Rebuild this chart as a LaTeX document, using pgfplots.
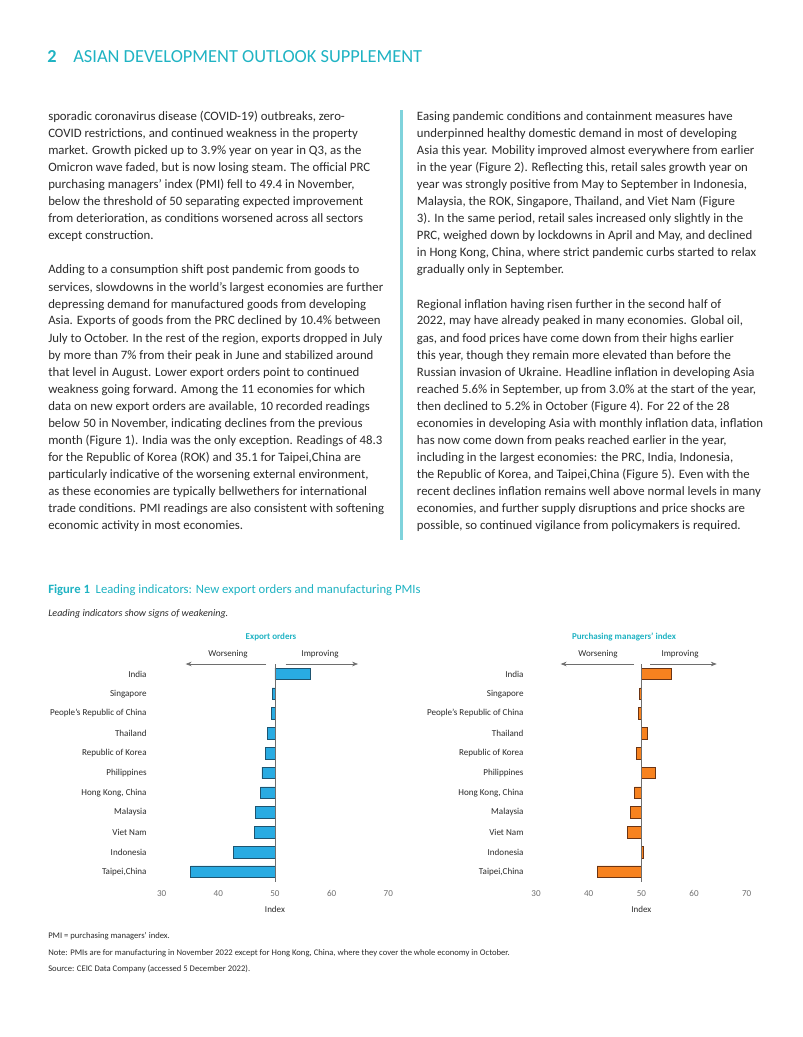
\documentclass[border=0pt]{standalone}
\usepackage{fontspec}
\setmainfont{Carlito}
\usepackage{pgfplots}
\pgfplotsset{compat=1.18}
\usepackage{pgfplotstable}
\usetikzlibrary{arrows.meta}
\definecolor{adbcyan}{HTML}{1FB3C3}
\definecolor{barcyan}{HTML}{7FD3DC}
\definecolor{bodytext}{HTML}{2B2B2B}
\definecolor{adbblue}{HTML}{29ABE2}
\definecolor{blueedge}{HTML}{1E5470}
\definecolor{adborange}{HTML}{F7821F}
\definecolor{orangeedge}{HTML}{6B3414}
\definecolor{tickgray}{HTML}{6E6E6E}

\pgfplotstableread{
idx export pmi
0  56.3 55.7
1  49.5 49.7
2  49.4 49.4
3  48.6 51.1
4  48.3 49.0
5  47.7 52.7
6  47.4 48.7
7  46.5 47.9
8  46.4 47.4
9  42.6 50.3
10 35.1 41.6
}\leadingdata

\newcommand\bodysize{\fontsize{9.8}{13}\selectfont}
\newcommand\Lline[2]{\node[anchor=base west,inner sep=0pt,text=bodytext,font=\bodysize] at (48,#1) {#2};}
\newcommand\Rline[2]{\node[anchor=base west,inner sep=0pt,text=bodytext,font=\bodysize] at (416.7,#1) {#2};}

\pgfplotsset{
  leadstyle/.style={
    scale only axis,
    anchor=south west,
    height=166.1bp,
    xmin=-20, xmax=20, ymin=-0.5, ymax=10.5,
    y dir=reverse,
    axis line style={draw=none},
    major tick length=0pt,
    xtick={-20,-10,0,10,20},
    xticklabels={30,40,50,60,70},
    ytick={0,...,10},
    yticklabels={India,Singapore,People’s Republic of China,Thailand,Republic of Korea,Philippines,{Hong Kong, China},Malaysia,Viet Nam,Indonesia,{Taipei,China}},
    tick label style={font=\fontsize{6.95}{8}\selectfont},
    xticklabel style={text=tickgray, yshift=-2.5bp, text height=5bp, text depth=0bp},
    yticklabel style={text=bodytext},
    /pgf/number format/assume math mode=true,
    xlabel={Index},
    xlabel style={font=\fontsize{6.9}{8}\selectfont, text=bodytext, yshift=-0.5bp},
    xbar, bar shift=0pt, bar width=8.9bp,
    clip=false,
  }
}

\begin{document}
\begin{tikzpicture}[x=0.7631bp,y=-0.7631bp]
\fill[white] (0,0) rectangle (802,1037);
\coordinate (LA) at (161.7,881.7);
\coordinate (RA) at (536,881.7);
% header
\node[anchor=base west,inner sep=0pt,text=adbcyan,font=\fontsize{14}{16}\selectfont\bfseries] at (47,63) {2};
\node[anchor=base west,inner sep=0pt,text=adbcyan,font=\fontsize{14.1}{16}\selectfont] at (73,63) {ASIAN DEVELOPMENT OUTLOOK SUPPLEMENT};
% column rule
\fill[barcyan] (400,110) rectangle (403,540);
% left column
\Lline{121}{sporadic coronavirus disease (COVID-19) outbreaks, zero-}
\Lline{138}{COVID restrictions, and continued weakness in the property}
\Lline{155}{market. Growth picked up to 3.9\% year on year in Q3, as the}
\Lline{172}{Omicron wave faded, but is now losing steam. The official PRC}
\Lline{189}{purchasing managers’ index (PMI) fell to 49.4 in November,}
\Lline{206}{below the threshold of 50 separating expected improvement}
\Lline{223}{from deterioration, as conditions worsened across all sectors}
\Lline{240}{except construction.}
\Lline{274}{Adding to a consumption shift post pandemic from goods to}
\Lline{291}{services, slowdowns in the world’s largest economies are further}
\Lline{308}{depressing demand for manufactured goods from developing}
\Lline{325}{Asia. Exports of goods from the PRC declined by 10.4\% between}
\Lline{342}{July to October. In the rest of the region, exports dropped in July}
\Lline{359}{by more than 7\% from their peak in June and stabilized around}
\Lline{376}{that level in August. Lower export orders point to continued}
\Lline{393}{weakness going forward. Among the 11 economies for which}
\Lline{410}{data on new export orders are available, 10 recorded readings}
\Lline{427}{below 50 in November, indicating declines from the previous}
\Lline{444}{month (Figure 1). India was the only exception. Readings of 48.3}
\Lline{461}{for the Republic of Korea (ROK) and 35.1 for Taipei,China are}
\Lline{478}{particularly indicative of the worsening external environment,}
\Lline{495}{as these economies are typically bellwethers for international}
\Lline{512}{trade conditions. PMI readings are also consistent with softening}
\Lline{529}{economic activity in most economies.}
% right column
\Rline{121}{Easing pandemic conditions and containment measures have}
\Rline{138}{underpinned healthy domestic demand in most of developing}
\Rline{155}{Asia this year. Mobility improved almost everywhere from earlier}
\Rline{172}{in the year (Figure 2). Reflecting this, retail sales growth year on}
\Rline{189}{year was strongly positive from May to September in Indonesia,}
\Rline{206}{Malaysia, the ROK, Singapore, Thailand, and Viet Nam (Figure}
\Rline{223}{3). In the same period, retail sales increased only slightly in the}
\Rline{240}{PRC, weighed down by lockdowns in April and May, and declined}
\Rline{257}{in Hong Kong, China, where strict pandemic curbs started to relax}
\Rline{274}{gradually only in September.}
\Rline{308}{Regional inflation having risen further in the second half of}
\Rline{325}{2022, may have already peaked in many economies. Global oil,}
\Rline{342}{gas, and food prices have come down from their highs earlier}
\Rline{359}{this year, though they remain more elevated than before the}
\Rline{376}{Russian invasion of Ukraine. Headline inflation in developing Asia}
\Rline{393}{reached 5.6\% in September, up from 3.0\% at the start of the year,}
\Rline{410}{then declined to 5.2\% in October (Figure 4). For 22 of the 28}
\Rline{427}{economies in developing Asia with monthly inflation data, inflation}
\Rline{444}{has now come down from peaks reached earlier in the year,}
\Rline{461}{including in the largest economies: the PRC, India, Indonesia,}
\Rline{478}{the Republic of Korea, and Taipei,China (Figure 5). Even with the}
\Rline{495}{recent declines inflation remains well above normal levels in many}
\Rline{512}{economies, and further supply disruptions and price shocks are}
\Rline{529}{possible, so continued vigilance from policymakers is required.}
% figure title
\node[anchor=base west,inner sep=0pt,text=adbcyan,font=\fontsize{9.7}{12}\selectfont] at (48,593) {\textbf{Figure 1}\ \ Leading indicators: New export orders and manufacturing PMIs};
\node[anchor=base west,inner sep=0pt,text=bodytext,font=\fontsize{7.7}{10}\selectfont\itshape] at (48,616) {Leading indicators show signs of weakening.};
% left panel annotations
\node[anchor=base,inner sep=0pt,text=adbcyan,font=\fontsize{6.9}{8}\selectfont\bfseries] at (271,639) {Export orders};
\node[anchor=base,inner sep=0pt,text=bodytext,font=\fontsize{6.9}{8}\selectfont] at (228,656) {Worsening};
\node[anchor=base,inner sep=0pt,text=bodytext,font=\fontsize{6.9}{8}\selectfont] at (320,656) {Improving};
\draw[-{Stealth[length=4.5bp,width=3.5bp]},line width=0.5bp,draw=tickgray] (266,664) -- (185.7,664);
\draw[-{Stealth[length=4.5bp,width=3.5bp]},line width=0.5bp,draw=tickgray] (285.7,664) -- (358,664);
% right panel annotations
\node[anchor=base,inner sep=0pt,text=adbcyan,font=\fontsize{6.9}{8}\selectfont\bfseries] at (624,639) {Purchasing managers’ index};
\node[anchor=base,inner sep=0pt,text=bodytext,font=\fontsize{6.9}{8}\selectfont] at (598,656) {Worsening};
\node[anchor=base,inner sep=0pt,text=bodytext,font=\fontsize{6.9}{8}\selectfont] at (680,656) {Improving};
\draw[-{Stealth[length=4.5bp,width=3.5bp]},line width=0.5bp,draw=tickgray] (634,664) -- (560.7,664);
\draw[-{Stealth[length=4.5bp,width=3.5bp]},line width=0.5bp,draw=tickgray] (650,664) -- (716.7,664);
% left axis
\begin{axis}[leadstyle, at={(LA)}, width=172.9bp,
  yticklabel style={xshift=-8bp}]
\addplot[fill=adbblue, draw=blueedge, line width=0.5bp] table[x expr=\thisrow{export}-50, y=idx]{\leadingdata};
\draw[draw=tickgray, line width=0.6bp] (axis cs:0,-0.5) -- (axis cs:0,10.5);
\end{axis}
% right axis
\begin{axis}[leadstyle, at={(RA)}, width=160.8bp,
  yticklabel style={xshift=-6bp}]
\addplot[fill=adborange, draw=orangeedge, line width=0.5bp] table[x expr=\thisrow{pmi}-50, y=idx]{\leadingdata};
\draw[draw=tickgray, line width=0.6bp] (axis cs:0,-0.5) -- (axis cs:0,10.5);
\end{axis}
% notes
\node[anchor=base west,inner sep=0pt,text=bodytext,font=\fontsize{6.6}{9}\selectfont] at (48,938) {PMI = purchasing managers’ index.};
\node[anchor=base west,inner sep=0pt,text=bodytext,font=\fontsize{6.6}{9}\selectfont] at (48,955) {Note: PMIs are for manufacturing in November 2022 except for Hong Kong, China, where they cover the whole economy in October.};
\node[anchor=base west,inner sep=0pt,text=bodytext,font=\fontsize{6.6}{9}\selectfont] at (48,971) {Source: CEIC Data Company (accessed 5 December 2022).};
\end{tikzpicture}
\end{document}
